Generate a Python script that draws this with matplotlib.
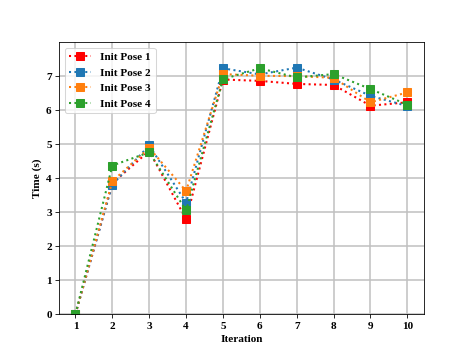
import numpy as np
import matplotlib
matplotlib.use('Agg')
import matplotlib.pyplot as plt

plt.rcParams['font.family'] = 'Liberation Serif'
plt.rcParams['font.weight'] = 'bold'
plt.rcParams['font.size'] = 11

# data
iterations = [1, 2, 3, 4, 5, 6, 7, 8, 9, 10]
pose1 = [0.0, 3.85, 4.80, 2.79, 6.90, 6.86, 6.77, 6.74, 6.13, 6.23]
pose2 = [0.0, 3.81, 4.96, 3.28, 7.23, 7.05, 7.25, 6.90, 6.42, 6.12]
pose3 = [0.0, 3.91, 4.89, 3.62, 7.06, 7.01, 7.00, 6.95, 6.23, 6.52]
pose4 = [0.0, 4.37, 4.76, 3.05, 6.91, 7.23, 6.96, 7.06, 6.62, 6.16]
labels = ['Init Pose 1', 'Init Pose 2', 'Init Pose 3', 'Init Pose 4']
colors = ['red', 'tab:blue', 'tab:orange', 'tab:green']

fig = plt.figure(figsize=(6.4, 4.8), dpi=73.6)
ax = fig.add_subplot(111)

for ys, lab, c in zip([pose1, pose2, pose3, pose4], labels, colors):
    ax.plot(iterations, ys, linestyle=':', linewidth=2, marker='s',
            markersize=7, color=c, label=lab)

ax.set_xticks(iterations)
ax.set_ylim(0, 8)
ax.set_yticks(range(0, 8))
ax.grid(True, color='#c0c0c0', linewidth=1.5)
ax.set_axisbelow(True)
ax.set_xlabel('Iteration', fontweight='bold')
ax.set_ylabel('Time (s)', fontweight='bold')
for t in ax.get_xticklabels() + ax.get_yticklabels():
    t.set_fontweight('bold')
ax.legend(loc='upper left', prop={'weight': 'bold'})

fig.savefig('out.png', dpi=73.6)
